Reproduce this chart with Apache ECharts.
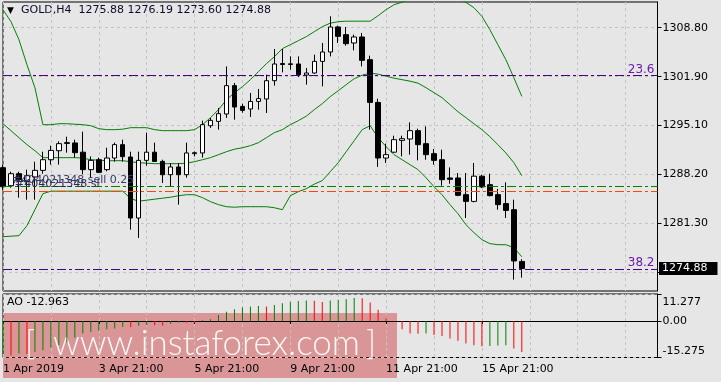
<!DOCTYPE html>
<html><head><meta charset="utf-8">
<script src="https://cdn.jsdelivr.net/npm/echarts@6/dist/echarts.min.js"></script>
<style>html,body{margin:0;padding:0;background:#e6e6e6;}#c{width:721px;height:382px;}</style>
</head><body><div id="c"></div>
<script>
// ---- data ----
const days = ['2 Apr','3 Apr','4 Apr','5 Apr','8 Apr','9 Apr','10 Apr','11 Apr','12 Apr','15 Apr','16 Apr'];
const hours = ['01:00','05:00','09:00','13:00','17:00','21:00'];
const firstLabel = '1 Apr 2019';
const openP  = [1289.09,1286.55,1288.24,1287.12,1287.78,1288.71,1290.21,1291.48,1292.50,1292.57,1291.27,1288.81,1290.21,1288.81,1290.45,1292.33,1290.59,1282.00,1290.12,1291.27,1289.97,1288.10,1289.19,1288.10,1291.06,1291.16,1295.00,1295.61,1296.65,1300.64,1297.72,1297.35,1298.42,1298.76,1301.34,1303.75,1303.62,1303.69,1302.14,1302.42,1304.06,1305.38,1308.90,1307.82,1306.65,1307.49,1304.30,1298.28,1290.45,1291.27,1292.93,1293.13,1294.30,1292.47,1291.06,1290.21,1287.64,1287.64,1285.29,1284.34,1287.89,1286.69,1285.29,1284.03,1283.17,1275.88];
const closeP = [1286.41,1288.24,1287.40,1287.96,1288.71,1290.21,1291.52,1292.47,1292.62,1291.20,1288.81,1290.12,1288.43,1290.45,1292.33,1290.64,1282.00,1290.12,1291.27,1289.97,1288.10,1289.19,1288.10,1291.16,1291.20,1295.14,1295.75,1296.69,1300.64,1297.63,1297.16,1298.42,1298.81,1301.34,1303.69,1303.62,1303.72,1302.19,1302.42,1304.06,1305.38,1308.90,1307.58,1306.55,1307.49,1304.20,1298.28,1290.45,1290.92,1293.03,1293.17,1294.30,1292.33,1290.92,1290.12,1287.40,1287.45,1285.19,1284.34,1287.89,1286.37,1285.15,1283.88,1283.07,1275.95,1274.88];
const lowP   = [1285.99,1286.27,1284.86,1284.58,1284.58,1288.24,1289.51,1289.51,1291.20,1290.50,1288.17,1287.64,1288.31,1288.57,1289.93,1289.93,1280.36,1279.19,1289.37,1289.93,1286.93,1286.45,1283.88,1287.68,1290.68,1290.50,1294.68,1294.44,1296.09,1295.85,1296.83,1296.23,1297.26,1296.79,1300.64,1302.51,1302.89,1301.86,1300.78,1302.33,1300.54,1304.76,1306.65,1306.27,1305.61,1303.35,1294.44,1289.19,1289.75,1291.20,1290.68,1290.92,1290.12,1290.21,1289.51,1286.55,1286.83,1285.07,1282.00,1284.20,1286.23,1285.05,1283.17,1282.00,1273.32,1273.60];
const highP  = [1289.51,1288.52,1288.52,1288.81,1289.93,1291.34,1292.19,1292.79,1293.45,1293.03,1294.16,1290.68,1290.50,1291.90,1292.61,1293.03,1291.34,1291.34,1294.02,1292.61,1290.21,1289.75,1289.75,1292.61,1291.38,1295.71,1296.09,1297.50,1303.35,1301.02,1298.10,1299.61,1300.17,1302.19,1305.80,1305.80,1304.76,1304.76,1303.13,1305.00,1306.65,1310.40,1309.09,1308.90,1307.82,1308.06,1304.86,1298.81,1292.47,1293.59,1293.59,1295.47,1294.58,1294.90,1291.72,1291.62,1289.13,1288.34,1288.34,1289.75,1288.10,1288.24,1286.09,1287.02,1284.58,1276.19];
const bbUpper = [1311.34,1309.65,1307.11,1303.59,1300.35,1295.14,1295.14,1295.28,1295.28,1295.21,1295.14,1295.00,1294.58,1294.44,1294.44,1294.51,1294.72,1294.72,1294.72,1294.44,1294.30,1294.30,1294.30,1294.30,1294.44,1295.14,1296.13,1297.26,1298.66,1299.65,1300.50,1301.48,1302.61,1303.73,1304.72,1305.85,1306.41,1306.97,1307.54,1308.24,1308.94,1309.44,1309.65,1309.72,1309.72,1309.72,1309.72,1310.49,1311.34,1312.04,1312.39,1312.75,1313.17,1313.45,1313.59,1313.59,1313.31,1312.89,1312.37,1311.62,1310.40,1308.52,1306.41,1304.30,1301.76,1299.13];
const bbMiddle = [1295.28,1294.30,1293.31,1292.33,1291.48,1290.50,1290.50,1290.50,1290.50,1290.50,1290.43,1290.21,1290.14,1290.07,1290.07,1290.07,1289.93,1289.79,1289.72,1289.65,1289.65,1289.65,1289.65,1289.72,1289.93,1290.21,1290.50,1290.92,1291.34,1291.69,1291.90,1292.19,1292.61,1293.31,1294.02,1294.44,1295.14,1295.71,1296.34,1297.26,1298.10,1299.09,1299.93,1300.78,1301.62,1302.11,1302.40,1302.26,1301.97,1301.69,1301.48,1301.27,1300.99,1300.35,1299.65,1298.95,1297.96,1296.97,1296.13,1295.28,1294.44,1293.45,1292.33,1291.16,1289.79,1287.96];
const bbLower = [1279.37,1279.44,1279.51,1280.92,1283.17,1285.43,1285.78,1285.78,1285.78,1285.78,1285.78,1285.78,1285.78,1285.78,1285.78,1285.78,1284.72,1284.37,1284.51,1284.65,1284.79,1284.93,1285.14,1285.28,1285.28,1284.86,1284.30,1283.88,1283.59,1283.52,1283.59,1283.59,1283.59,1283.59,1283.45,1283.17,1285.14,1285.71,1286.13,1286.77,1287.26,1288.52,1289.79,1291.34,1292.89,1294.44,1295.00,1293.31,1292.05,1290.92,1290.21,1289.51,1288.81,1287.68,1286.41,1285.28,1283.88,1282.61,1281.06,1279.94,1278.95,1278.39,1278.24,1278.24,1277.82,1276.54];
const aoValues = [-13.6,-14.3,-13.6,-13.8,-13.0,-12.2,-11.1,-10.1,-9.0,-7.0,-5.2,-4.5,-4.1,-3.5,-3.1,-2.4,-2.5,-2.0,-1.7,-1.8,-1.9,-1.2,-0.6,-0.7,-0.8,0.3,0.7,2.5,3.9,4.9,5.6,6.0,6.3,6.0,6.7,7.4,7.9,8.4,8.6,8.5,7.9,8.6,8.9,9.1,9.6,9.5,7.72,4.64,1.14,-0.3,-3.5,-5.19,-5.3,-5.2,-5.9,-6.33,-7.3,-8.31,-9.41,-10.13,-10.55,-10.5,-10.25,-10.13,-11.52,-12.963];
const aoColors = ['g','r','g','r','g','g','g','g','g','g','g','g','g','g','g','g','r','g','g','r','r','g','g','r','r','g','g','g','g','g','g','g','g','r','g','g','g','g','g','r','r','g','g','g','g','r','r','r','r','r','r','r','r','g','r','r','r','r','r','r','r','g','g','g','r','r'];
const fibLevels = [{value:1302.04, name:'23.6'},{value:1274.82, name:'38.2'}];
const orderLevels = [{value:1286.45, name:'#404021348 sell 0.25', color:'#008000'},{value:1285.81, name:'#404021348 sl', color:'#ff4500'}];
const mainTicks = [1274.40,1281.30,1288.20,1295.10,1301.90,1308.80];
const aoTicks = [-15.275,0,11.277];
const symbolName = 'GOLD,H4';
const aoName = 'AO';
const emptyBars = 17;

// ---- build ----
const categories = ['1 Apr 21:00'];
days.forEach((d, di) => hours.forEach((h, hi) => { if (!(di === days.length - 1 && hi > 4)) categories.push(d + ' ' + h); }));
for (let k = 1; k <= emptyBars; k++) categories.push('+' + k);
const nBars = openP.length;
const ohlc = openP.map((o, i) => [o, closeP[i], lowP[i], highP[i]]);
const last = nBars - 1;
const FONT = 'DejaVu Sans';
const dashDot = [9, 3, 3, 3];
const gridDash = {color:'#c4c4c4', type:[3,3], width:1};
const every6 = (i) => i % 6 === 0;
const every12 = (i) => i % 12 === 0 && i < nBars;

const chart = echarts.init(document.getElementById('c'), null, {renderer:'canvas'});
const markData = [];
fibLevels.forEach(f => markData.push({yAxis:f.value, lineStyle:{color:'#4b0082', type:dashDot, width:1},
  label:{show:true, formatter:f.name, position:'insideEndTop', color:'#6a1bb0', fontFamily:FONT, fontSize:12, distance:[3,0]}}));
orderLevels.forEach((o, k) => markData.push({yAxis:o.value, lineStyle:{color:o.color, type:dashDot, width:1},
  label:{show:true, formatter:o.name, position:'insideStartTop', color: k === 0 ? '#3a3a6a' : '#2a2a50', fontFamily:FONT, fontSize:11, distance:[9 + 3*k, 1]}}));

chart.setOption({
  animation:false,
  backgroundColor:'#e6e6e6',
  grid:[
    {left:3, top:2, width:654.5, height:289, show:true, borderColor:'#000', borderWidth:1, backgroundColor:'transparent'},
    {left:3, top:294, width:654.5, height:63.5, show:true, borderColor:'#000', borderWidth:1, backgroundColor:'transparent'}
  ],
  xAxis:[
    {type:'category', gridIndex:0, data:categories, boundaryGap:false,
     axisLine:{show:false}, axisTick:{show:false}, axisLabel:{show:false},
     splitLine:{show:true, interval:every6, lineStyle:gridDash}},
    {type:'category', gridIndex:1, data:categories, boundaryGap:false,
     axisLine:{show:true, lineStyle:{color:'#000'}},
     axisTick:{show:true, interval:every12, length:3, lineStyle:{color:'#000'}},
     axisLabel:{show:true, interval:every12, align:'left', margin:6, color:'#000', fontFamily:FONT, fontSize:11,
       formatter:(v, i) => i === 0 ? firstLabel : v},
     splitLine:{show:true, interval:every6, lineStyle:gridDash}}
  ],
  yAxis:[
    {type:'value', gridIndex:0, position:'right', min:1271.72, max:1312.42, scale:true,
     axisLine:{show:true, lineStyle:{color:'#000'}},
     axisTick:{show:true, length:4, customValues:mainTicks, lineStyle:{color:'#000'}},
     axisLabel:{show:true, customValues:mainTicks, margin:5, color:'#000', fontFamily:FONT, fontSize:11, formatter:v => v.toFixed(2)},
     splitLine:{show:true, lineStyle:gridDash}},
    {type:'value', gridIndex:1, position:'right', min:-15.275, max:11.277,
     axisLine:{show:true, lineStyle:{color:'#000'}},
     axisTick:{show:true, length:4, customValues:aoTicks, lineStyle:{color:'#000'}},
     axisLabel:{show:true, customValues:aoTicks, margin:5, color:'#000', fontFamily:FONT, fontSize:11,
       formatter:v => v === 0 ? '{m|0.00}' : (v > 0 ? '{t|' + v + '}' : '{b|' + v + '}'),
       rich:{t:{padding:[17,0,0,0], fontFamily:FONT, fontSize:11}, b:{padding:[0,0,13,0], fontFamily:FONT, fontSize:11}, m:{fontFamily:FONT, fontSize:11}}},
     splitLine:{show:true, lineStyle:gridDash}}
  ],
  series:[
    {type:'candlestick', xAxisIndex:0, yAxisIndex:0, data:ohlc, barWidth:5,
     itemStyle:{color:'#fff', color0:'#000', borderColor:'#000', borderColor0:'#000', borderWidth:1},
     markLine:{silent:true, symbol:['none','none'], animation:false, data:markData}},
    {type:'line', xAxisIndex:0, yAxisIndex:0, data:bbUpper, symbol:'none', lineStyle:{color:'#008000', width:1}, z:1},
    {type:'line', xAxisIndex:0, yAxisIndex:0, data:bbMiddle, symbol:'none', lineStyle:{color:'#008000', width:1}, z:1},
    {type:'line', xAxisIndex:0, yAxisIndex:0, data:bbLower, symbol:'none', lineStyle:{color:'#008000', width:1}, z:1,
     markLine:{silent:true, symbol:['none','none'], animation:false,
       lineStyle:{color:'transparent', width:0},
       label:{show:true, position:'end', formatter:closeP[last].toFixed(2), backgroundColor:'#000', color:'#fff', fontFamily:FONT, fontSize:11, lineHeight:12, padding:[1,10,0,3], distance:1.5},
       data:[{yAxis:closeP[last]}]}},
    {type:'bar', xAxisIndex:1, yAxisIndex:1, barWidth:1,
     data:aoValues.map((v, i) => ({value:v, itemStyle:{color: aoColors[i] === 'g' ? '#008000' : '#ff0000'}}))}
  ],
  graphic:[
    {type:'text', left:7, top:6, style:{text:'▼', fill:'#000', font:'9px ' + FONT}},
    {type:'text', left:21, top:5, style:{text:symbolName + '  ' + [openP[last], highP[last], lowP[last], closeP[last]].map(v => v.toFixed(2)).join(' '), fill:'#0a0a2a', font:'11px ' + FONT}},
    {type:'text', left:7, top:297, style:{text:aoName + ' ' + aoValues[last].toFixed(3), fill:'#000', font:'11px ' + FONT}},
    {type:'group', z:100, children:[
      {type:'rect', shape:{x:3, y:313, width:394, height:65}, style:{fill:'rgba(200,30,30,0.4)'}},
      {type:'text', x:25, y:327, style:{text:'[', fill:'rgba(255,255,255,0.9)', font:'300 34px Lato'}},
      {type:'text', x:53, y:326, style:{text:'www.instaforex.com', fill:'rgba(255,255,255,0.92)', font:'300 35px Lato'}},
      {type:'text', x:366, y:327, style:{text:']', fill:'rgba(255,255,255,0.9)', font:'300 34px Lato'}}
    ]}
  ]
});
</script></body></html>
